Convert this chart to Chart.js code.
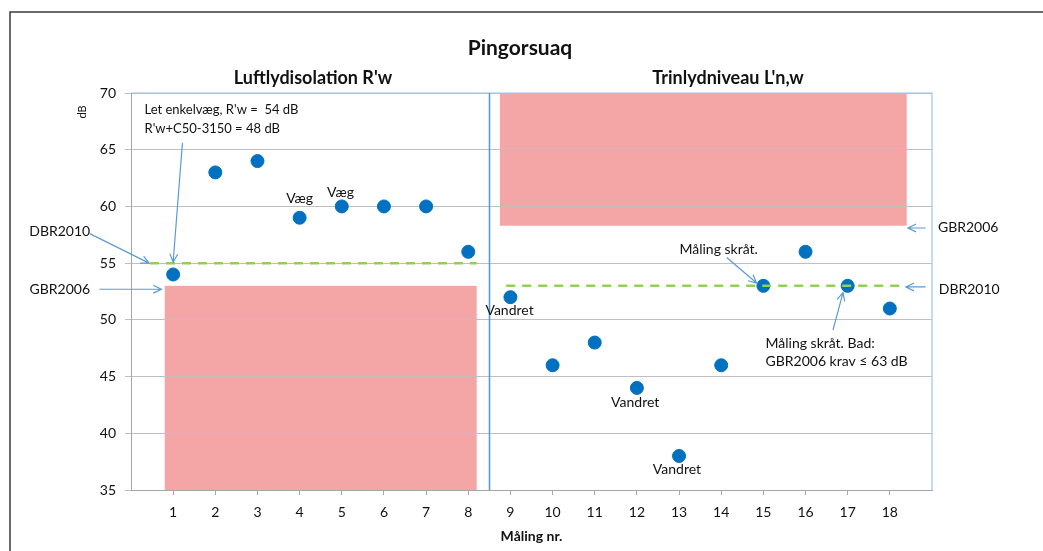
<!DOCTYPE html>
<html lang="da">
<head>
    <meta charset="UTF-8">
    <title>Pingorsuaq</title>
    <script src="https://cdn.jsdelivr.net/npm/chart.js"></script>
    <style>
        html, body { margin: 0; padding: 0; background: #fff; }
        canvas { display: block; }
    </style>
</head>
<body>
    <canvas id="chart" width="1043" height="551"></canvas>

    <script>
        // measurement number and measured dB
        const malingNr = [1, 2, 3, 4, 5, 6, 7, 8, 9, 10, 11, 12, 13, 14, 15, 16, 17, 18];
        const maaltDb = [54, 63, 64, 59, 60, 60, 60, 56, 52, 46, 48, 44, 38, 46, 53, 56, 53, 51];
        const yTicks = [35, 40, 45, 50, 55, 60, 65, 70];

        // requirement lines (DBR2010) and requirement zones (GBR2006)
        const dbrLuft = [[0.45, 55], [8.2, 55]];
        const dbrTrin = [[8.9, 53], [18.35, 53]];
        const gbrZones = [
            { x0: 0.8, x1: 8.2, y0: 35, y1: 53 },
            { x0: 8.75, x1: 18.4, y0: 58.3, y1: 70 }
        ];
        const skillelinje = 8.5;

        const FONT = "Lato, 'Open Sans', sans-serif";
        const TXT = "#111";
        const ARROW = "#5b9bd5";

        const labels = [
            { t: "Væg", x: 4.0, y: 60.7 },
            { t: "Væg", x: 4.97, y: 61.2 },
            { t: "Vandret", x: 8.98, y: 50.8 },
            { t: "Vandret", x: 11.96, y: 42.7 },
            { t: "Vandret", x: 12.95, y: 36.8 },
            { t: "Måling skråt.", x: 13.94, y: 56.2 },
            { t: "Måling skråt. Bad:", x: 15.05, y: 47.96, left: true },
            { t: "GBR2006 krav ≤ 63 dB", x: 15.05, y: 46.29, left: true },
            { t: "Let enkelvæg, R'w =  54 dB", x: 0.32, y: 68.5, left: true, small: true },
            { t: "R'w+C50-3150 = 48 dB", x: 0.32, y: 66.83, left: true, small: true },
            { t: "DBR2010", x: -1.69, y: 57.75 },
            { t: "GBR2006", x: -1.69, y: 52.64 },
            { t: "GBR2006", x: 19.14, y: 58.1, left: true },
            { t: "DBR2010", x: 19.16, y: 52.7, left: true }
        ];

        const arrows = [
            { from: [1.22, 65.6], to: [1.0, 55.1] },
            { from: [-0.98, 57.6], to: [0.43, 55.0] },
            { from: [-0.75, 52.7], to: [0.72, 52.7] },
            { from: [18.85, 58.1], to: [18.43, 58.1] },
            { from: [18.85, 52.9], to: [18.38, 52.9] },
            { from: [14.13, 55.5], to: [14.84, 53.25] },
            { from: [16.65, 49.1], to: [16.89, 52.4] }
        ];

        const decor = {
            id: 'decor',
            beforeDraw(chart) {
                const { ctx, scales: { x, y } } = chart;
                ctx.save();
                ctx.fillStyle = "#f4a6a6";
                gbrZones.forEach(z => {
                    const px0 = x.getPixelForValue(z.x0), px1 = x.getPixelForValue(z.x1);
                    const py0 = y.getPixelForValue(z.y1), py1 = y.getPixelForValue(z.y0);
                    ctx.fillRect(px0, py0, px1 - px0, py1 - py0);
                });
                ctx.restore();
            },
            afterDraw(chart) {
                const { ctx, chartArea: a, scales: { x, y } } = chart;
                ctx.save();

                // outer frame
                ctx.strokeStyle = "#3a3a3a";
                ctx.lineWidth = 1.5;
                ctx.beginPath();
                ctx.moveTo(10, 560); ctx.lineTo(10, 12); ctx.lineTo(1043, 12);
                ctx.stroke();

                // panel borders
                ctx.strokeStyle = "#9dc3e6";
                ctx.lineWidth = 1.2;
                ctx.beginPath();
                ctx.moveTo(a.left, a.top); ctx.lineTo(a.right, a.top); ctx.lineTo(a.right, a.bottom);
                ctx.stroke();
                const sx = Math.round(x.getPixelForValue(skillelinje)) + 0.5;
                ctx.strokeStyle = "#5b9bd5";
                ctx.lineWidth = 1.6;
                ctx.beginPath();
                ctx.moveTo(sx, a.top); ctx.lineTo(sx, a.bottom);
                ctx.stroke();

                // titles
                ctx.fillStyle = TXT;
                ctx.textAlign = "center";
                ctx.textBaseline = "middle";
                ctx.font = "bold 21px " + FONT;
                ctx.fillText("Pingorsuaq", 520, 48);
                ctx.font = "bold 18px " + FONT;
                ctx.fillText("Luftlydisolation R'w", 313, 78);
                ctx.fillText("Trinlydniveau L'n,w", 728, 78);

                ctx.save();
                ctx.translate(82, 112);
                ctx.rotate(-Math.PI / 2);
                ctx.font = "11px " + FONT;
                ctx.fillText("dB", 0, 0);
                ctx.restore();

                // arrows
                ctx.strokeStyle = ARROW;
                ctx.lineWidth = 1.2;
                arrows.forEach(ar => {
                    const x0 = x.getPixelForValue(ar.from[0]), y0 = y.getPixelForValue(ar.from[1]);
                    const x1 = x.getPixelForValue(ar.to[0]), y1 = y.getPixelForValue(ar.to[1]);
                    const ang = Math.atan2(y1 - y0, x1 - x0);
                    ctx.beginPath();
                    ctx.moveTo(x0, y0); ctx.lineTo(x1, y1);
                    ctx.moveTo(x1 - 9 * Math.cos(ang - 0.45), y1 - 9 * Math.sin(ang - 0.45));
                    ctx.lineTo(x1, y1);
                    ctx.lineTo(x1 - 9 * Math.cos(ang + 0.45), y1 - 9 * Math.sin(ang + 0.45));
                    ctx.stroke();
                });

                // text labels
                ctx.fillStyle = TXT;
                labels.forEach(l => {
                    ctx.font = (l.small ? "13px " : "14px ") + FONT;
                    ctx.textAlign = l.left ? "left" : "center";
                    ctx.fillText(l.t, x.getPixelForValue(l.x), y.getPixelForValue(l.y));
                });
                ctx.restore();
            }
        };

        const ctx = document.getElementById("chart").getContext("2d");
        new Chart(ctx, {
            type: 'scatter',
            data: {
                datasets: [
                    {
                        label: 'DBR2010 luft',
                        data: dbrLuft.map(p => ({ x: p[0], y: p[1] })),
                        showLine: true,
                        borderColor: '#92d050',
                        borderWidth: 2.5,
                        borderDash: [9, 7],
                        pointRadius: 0
                    },
                    {
                        label: 'DBR2010 trin',
                        data: dbrTrin.map(p => ({ x: p[0], y: p[1] })),
                        showLine: true,
                        borderColor: '#92d050',
                        borderWidth: 2.5,
                        borderDash: [9, 7],
                        pointRadius: 0
                    },
                    {
                        label: 'Måling',
                        data: malingNr.map((n, i) => ({ x: n, y: maaltDb[i] })),
                        backgroundColor: '#0070c0',
                        borderColor: '#0070c0',
                        pointRadius: 6.5,
                        pointHoverRadius: 6.5
                    }
                ]
            },
            options: {
                responsive: false,
                animation: false,
                layout: { padding: { left: 0, top: 93, right: 111, bottom: 0 } },
                plugins: {
                    legend: { display: false },
                    tooltip: { enabled: false }
                },
                scales: {
                    x: {
                        type: 'linear',
                        min: 0,
                        max: 19,
                        afterFit: s => { s.height = 61; },
                        afterBuildTicks: s => { s.ticks = malingNr.map(v => ({ value: v })); },
                        ticks: {
                            autoSkip: false,
                            maxRotation: 0,
                            padding: 9,
                            color: TXT,
                            font: { family: FONT, size: 14 },
                            callback: v => String(v)
                        },
                        grid: {
                            drawOnChartArea: false,
                            drawTicks: true,
                            tickLength: 5,
                            color: '#a6a6a6'
                        },
                        border: { color: '#a6a6a6' },
                        title: {
                            display: true,
                            text: 'Måling nr.',
                            color: TXT,
                            font: { family: FONT, size: 14, weight: 'bold' },
                            padding: { top: 0, bottom: 6 }
                        }
                    },
                    y: {
                        min: 35,
                        max: 70,
                        afterFit: s => { s.width = 131; },
                        afterBuildTicks: s => { s.ticks = yTicks.map(v => ({ value: v })); },
                        ticks: {
                            padding: 9,
                            color: TXT,
                            font: { family: FONT, size: 14 }
                        },
                        grid: {
                            color: '#bfbfbf',
                            tickLength: 6
                        },
                        border: { color: '#a6a6a6' }
                    }
                }
            },
            plugins: [decor]
        });
    </script>
</body>
</html>
